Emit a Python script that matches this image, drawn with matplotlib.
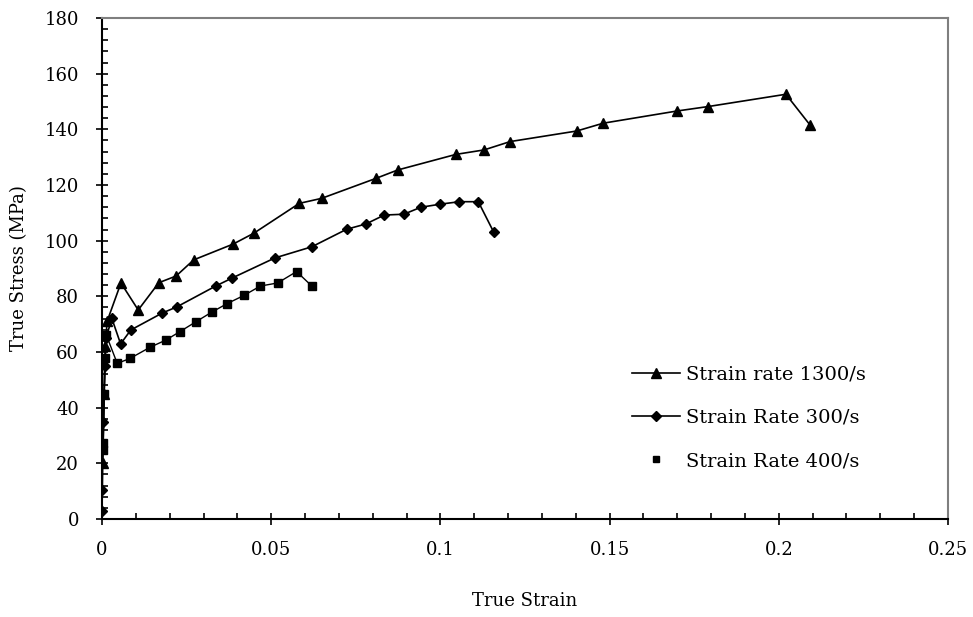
import matplotlib
matplotlib.use("Agg")
import matplotlib.pyplot as plt
from matplotlib.lines import Line2D
from matplotlib.ticker import MultipleLocator

plt.rcParams['font.family'] = ['DejaVu Serif', 'Liberation Serif']

# Strain rate 1300/s (triangles)
strain_1300 = [0.0002, 0.0006, 0.0010, 0.0015, 0.0056, 0.0107, 0.0168, 0.0219, 0.0271,
               0.0388, 0.0449, 0.0583, 0.0649, 0.0810, 0.0874, 0.1046, 0.1129, 0.1206,
               0.1403, 0.1481, 0.1700, 0.1792, 0.2021, 0.2092]
stress_1300 = [20.0, 45.0, 62.0, 71.0, 84.8, 75.1, 84.9, 87.3, 93.1,
               98.8, 102.7, 113.4, 115.2, 122.4, 125.4, 131.0, 132.6, 135.6,
               139.4, 142.2, 146.6, 148.2, 152.6, 141.6]

# Strain rate 300/s (diamonds)
strain_300 = [0.0000, 0.0001, 0.0004, 0.0008, 0.0012, 0.0029, 0.0055, 0.0085, 0.0178,
              0.0221, 0.0336, 0.0385, 0.0511, 0.0620, 0.0723, 0.0780, 0.0834, 0.0892,
              0.0942, 0.0999, 0.1056, 0.1112, 0.1157]
stress_300 = [2.8, 10.5, 35.0, 55.0, 65.0, 72.1, 62.9, 67.9, 74.0,
              76.2, 83.7, 86.6, 93.8, 97.8, 104.1, 106.0, 109.2, 109.5,
              112.0, 113.1, 114.0, 114.0, 103.2]

# Strain rate 400/s (squares)
strain_400 = [0.0003, 0.0004, 0.0007, 0.0010, 0.0013, 0.0045, 0.0083, 0.0142, 0.0189,
              0.0230, 0.0278, 0.0324, 0.0370, 0.0419, 0.0468, 0.0519, 0.0575, 0.0620]
stress_400 = [24.8, 27.3, 45.0, 58.0, 66.0, 55.9, 57.7, 61.7, 64.3,
              67.3, 70.9, 74.3, 77.4, 80.3, 83.7, 84.8, 88.9, 83.7]

labels = ["Strain rate 1300/s", "Strain Rate 300/s", "Strain Rate 400/s"]

fig = plt.figure(figsize=(9.73, 6.17), dpi=100)
ax = fig.add_axes([102/973, 1-519/617, 846/973, 501/617])

ax.plot(strain_1300, stress_1300, color='black', lw=1.2, marker='^', ms=7)
ax.plot(strain_300, stress_300, color='black', lw=1.2, marker='D', ms=5.5)
ax.plot(strain_400, stress_400, color='black', lw=1.0, marker='s', ms=6)

ax.set_xlim(0, 0.25)
ax.set_ylim(0, 180)
ax.xaxis.set_minor_locator(MultipleLocator(0.01))
ax.yaxis.set_major_locator(MultipleLocator(20))
ax.yaxis.set_minor_locator(MultipleLocator(4))
ax.set_xticks([0, 0.05, 0.1, 0.15, 0.2, 0.25])
ax.set_xticklabels(['0', '0.05', '0.1', '0.15', '0.2', '0.25'])

ax.tick_params(which='major', direction='inout', length=9, width=1.2, labelsize=13)
ax.tick_params(axis='x', which='major', pad=11)
ax.tick_params(axis='y', which='major', pad=12)
ax.tick_params(which='minor', direction='in', length=4, width=1.2)

for s in ['top', 'right']:
    ax.spines[s].set_color('#7f7f7f')
    ax.spines[s].set_linewidth(1.5)
for s in ['left', 'bottom']:
    ax.spines[s].set_color('black')
    ax.spines[s].set_linewidth(1.5)

ax.set_xlabel('True Strain', fontsize=13, labelpad=24)
ax.set_ylabel('True Stress (MPa)', fontsize=13, labelpad=12)

handles = [Line2D([], [], color='black', lw=1.2, marker='^', ms=7),
           Line2D([], [], color='black', lw=1.2, marker='D', ms=5),
           Line2D([], [], color='black', lw=0, marker='s', ms=5)]
ax.legend(handles, labels, loc='center left', bbox_to_anchor=(0.626, 0.2016),
          frameon=False, fontsize=14, handlelength=2.5, handletextpad=0.3,
          labelspacing=1.3, borderpad=0, borderaxespad=0)

fig.savefig('out.png', dpi=100)
